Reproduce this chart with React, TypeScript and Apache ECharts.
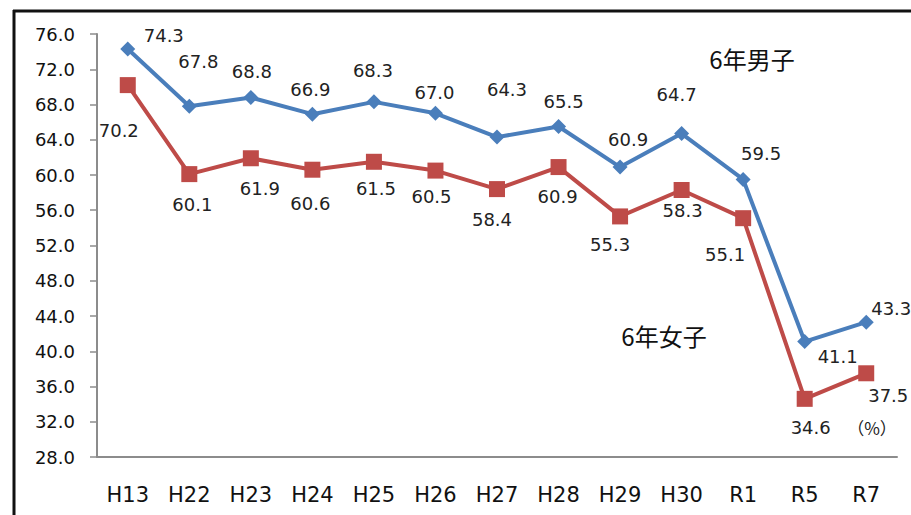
import React, { useEffect, useRef } from "react";
import * as echarts from "echarts";

const categories = ["H13", "H22", "H23", "H24", "H25", "H26", "H27", "H28", "H29", "H30", "R1", "R5", "R7"];
const boys = [74.3, 67.8, 68.8, 66.9, 68.3, 67.0, 64.3, 65.5, 60.9, 64.7, 59.5, 41.1, 43.3];
const girls = [70.2, 60.1, 61.9, 60.6, 61.5, 60.5, 58.4, 60.9, 55.3, 58.3, 55.1, 34.6, 37.5];
const boysName = "6年男子";
const girlsName = "6年女子";
const unitLabel = "（%）";
const yMin = 28;
const yMax = 76;
const yStep = 4;

// label placement (style, not data)
const boysLabelOffsets = [[36, -13], [9, -45], [1, -26], [-2, -25], [-1, -31], [-1, -21], [10, -48], [5, -25], [8, -28], [-5, -39], [18, -26], [33, 15], [25, -14]];
const girlsLabelOffsets = [[-9, 45], [3, 30], [9, 30], [-2, 34], [2, 27], [-4, 26], [-5, 30], [-1, 29], [-10, 28], [1, 21], [-18, 36], [6, 29], [22, 22]];

const FONT = "DejaVu Sans";
const JFONT = "Noto Sans CJK JP";
const BLUE = "#4A7EBB";
const RED = "#BE4B48";

function makeData(values: number[], offsets: number[][]) {
  return values.map((v, i) => ({
    value: v,
    label: { offset: offsets[i] },
  }));
}

export default function App() {
  const ref = useRef<HTMLDivElement>(null);
  useEffect(() => {
    if (!ref.current) return;
    const chart = echarts.init(ref.current, undefined, { renderer: "svg" });
    const labelBase = {
      show: true,
      position: "inside",
      align: "center",
      verticalAlign: "middle",
      fontFamily: FONT,
      fontSize: 18,
      color: "#222",
      formatter: (p: any) => Number(p.value).toFixed(1),
    };
    chart.setOption({
      animation: false,
      backgroundColor: "#fff",
      grid: { left: 97, right: 14, top: 34, bottom: 58, containLabel: false },
      xAxis: {
        type: "category",
        data: categories,
        boundaryGap: true,
        axisLine: { lineStyle: { color: "#8c8c8c", width: 2 } },
        axisTick: { show: false },
        axisLabel: { fontFamily: FONT, fontSize: 21, color: "#111", margin: 27 },
      },
      yAxis: {
        type: "value",
        min: yMin,
        max: yMax,
        interval: yStep,
        axisLine: { show: true, lineStyle: { color: "#8c8c8c", width: 2 } },
        axisTick: { show: true, length: 7, lineStyle: { color: "#8c8c8c", width: 1.5 } },
        splitLine: { show: false },
        axisLabel: {
          fontFamily: FONT,
          fontSize: 18,
          color: "#111",
          margin: 22,
          formatter: (v: number) => v.toFixed(1),
        },
      },
      series: [
        {
          name: girlsName,
          type: "line",
          data: makeData(girls, girlsLabelOffsets),
          symbol: "rect",
          symbolSize: 16,
          itemStyle: { color: RED },
          lineStyle: { color: RED, width: 4 },
          label: labelBase,
          z: 2,
        },
        {
          name: boysName,
          type: "line",
          data: makeData(boys, boysLabelOffsets),
          symbol: "diamond",
          symbolSize: 15,
          itemStyle: { color: BLUE },
          lineStyle: { color: BLUE, width: 4 },
          label: labelBase,
          z: 3,
        },
      ],
      graphic: [
        { type: "line", shape: { x1: 14, y1: 10, x2: 14, y2: 515 }, style: { stroke: "#111", lineWidth: 3 } },
        { type: "line", shape: { x1: 13, y1: 11, x2: 911, y2: 11 }, style: { stroke: "#111", lineWidth: 3 } },
        {
          type: "text",
          x: 752,
          y: 58,
          style: { text: boysName, fontFamily: JFONT, fontSize: 24, fill: "#111", align: "center", verticalAlign: "middle" },
        },
        {
          type: "text",
          x: 664,
          y: 335,
          style: { text: girlsName, fontFamily: JFONT, fontSize: 24, fill: "#111", align: "center", verticalAlign: "middle" },
        },
        {
          type: "text",
          x: 872,
          y: 427,
          style: { text: unitLabel, fontFamily: JFONT, fontSize: 17, fill: "#222", align: "center", verticalAlign: "middle" },
        },
      ],
    });
    return () => chart.dispose();
  }, []);
  return <div ref={ref} style={{ position: "fixed", left: 0, top: 0, width: 911, height: 515 }} />;
}
